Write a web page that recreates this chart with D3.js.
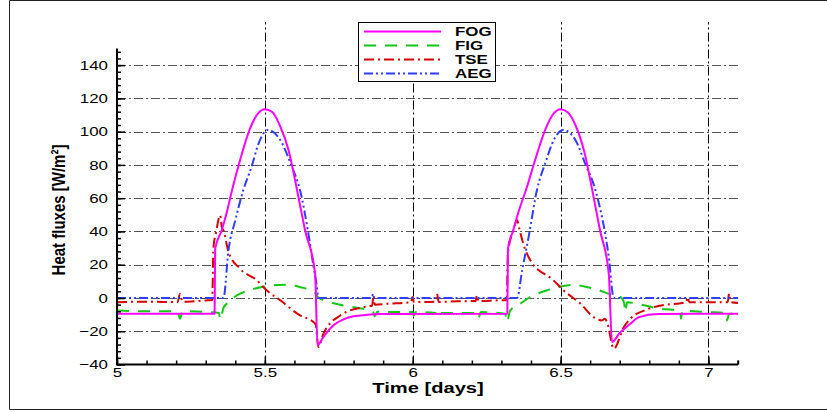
<!DOCTYPE html>
<html>
<head>
<meta charset="utf-8">
<script src="https://cdn.jsdelivr.net/npm/d3@7"></script>
<style>
  html, body { margin: 0; padding: 0; background: #fff; }
  svg { display: block; }
  text { font-family: "Liberation Sans", Arial, sans-serif; }
</style>
</head>
<body>
<svg id="chart" width="827" height="412"></svg>
<script>
// Heat flux components over two diurnal cycles, [time in days, W/m2]
const fog = [
  [5.00,-9.5],[5.33,-9.5],[5.332,29.7],[5.354,40.7],[5.372,52],[5.389,64.8],[5.416,82.8],
  [5.45,102],[5.477,111],[5.50,113.5],[5.525,111.8],[5.55,104],[5.58,89],[5.609,64.8],
  [5.636,40.7],[5.67,14.6],[5.678,-28.5],[5.697,-23.7],[5.731,-16.6],[5.772,-12.4],
  [5.822,-10.5],[5.89,-9.6],[6.32,-9.5],[6.322,29.7],[6.34,40.7],[6.36,53],[6.385,66],
  [6.414,83],[6.45,102],[6.477,111],[6.50,113.5],[6.525,111.5],[6.55,104],[6.58,88],
  [6.607,65],[6.633,41],[6.663,14.6],[6.674,-26.5],[6.70,-21],[6.736,-15.5],[6.765,-11.5],
  [6.83,-9.6],[7.10,-9.5]
];
const fig = [
  [5.00,-7.5],[5.10,-8],[5.205,-8],[5.213,-12.5],[5.222,-8],[5.315,-8.5],[5.345,-9],
  [5.349,-13],[5.36,-6],[5.377,-2.5],[5.416,2.6],[5.45,4.8],[5.49,6.6],[5.567,8],
  [5.62,6.5],[5.668,3.5],[5.68,0.5],[5.72,-2.5],[5.765,-4.5],[5.832,-6.5],[5.866,-8.5],
  [5.872,-11],[5.88,-8.3],[5.92,-8.5],[6.00,-8.5],[6.003,-10.5],[6.01,-8.5],[6.078,-9],
  [6.082,-11.5],[6.09,-9],[6.218,-9],[6.223,-11.9],[6.23,-8.5],[6.313,-9.5],[6.318,-14.5],
  [6.33,-7.5],[6.364,-3.4],[6.398,0.6],[6.454,4.6],[6.544,7.8],[6.612,5.6],[6.68,1.6],
  [6.702,0.6],[6.715,-3],[6.719,-8.5],[6.725,-2.5],[6.759,-3.5],[6.838,-6.5],[6.905,-7.5],
  [6.907,-12.5],[6.912,-7.8],[7.00,-8.5],[7.06,-9],[7.063,-13.5],[7.07,-9.5],[7.10,-9.5]
];
const tse = [
  [5.00,-2.5],[5.10,-2.2],[5.205,-2.5],[5.213,2.6],[5.222,-2.3],[5.26,-2],[5.30,-1.5],
  [5.322,-1.2],[5.326,30],[5.335,39.5],[5.349,49.7],[5.355,42],[5.36,40.7],[5.377,27.6],
  [5.416,17.6],[5.473,10.6],[5.506,4.6],[5.552,-1.4],[5.619,-10.5],[5.664,-14.5],
  [5.672,-16],[5.681,-29.5],[5.698,-21.5],[5.755,-10.5],[5.833,-5.5],[5.863,-4.5],
  [5.867,1.6],[5.872,-4],[5.92,-3.4],[5.995,-2.5],[5.999,0.6],[6.004,-2.5],[6.078,-2.2],
  [6.082,2.6],[6.088,-2.4],[6.15,-2],[6.213,-1.8],[6.217,1.6],[6.222,-1.8],[6.30,-1.4],
  [6.318,-1.4],[6.322,26.7],[6.34,40.7],[6.353,46.7],[6.36,42],[6.375,32],[6.398,22.6],
  [6.476,10.6],[6.51,4.6],[6.567,-3.4],[6.612,-11.5],[6.64,-13.5],[6.65,-12.5],
  [6.657,-14.5],[6.68,-30.5],[6.714,-17.5],[6.736,-12.5],[6.79,-7],[6.84,-4.5],
  [6.925,-2.5],[6.93,0.6],[6.935,-2.5],[6.99,-2.5],[7.065,-2.5],[7.07,2.6],[7.075,-2.5],
  [7.10,-3]
];
const aeg = [
  [5.00,0],[5.36,0],[5.377,28.7],[5.40,46.7],[5.427,64.8],[5.457,80],[5.477,92],[5.51,101],
  [5.552,95],[5.589,80],[5.619,64.8],[5.646,40],[5.664,19.6],[5.676,6.6],[5.681,0],
  [5.862,0],[5.866,2.5],[5.87,0],[6.353,0],[6.37,16.6],[6.392,36.7],[6.42,64.8],
  [6.45,82],[6.477,95],[6.51,101],[6.55,95],[6.585,80],[6.618,64.8],[6.663,24.6],
  [6.68,0],[7.10,0]
];

const seriesNames = ["FOG", "FIG", "TSE", "AEG"];
const xMajorTicks = [5, 5.5, 6, 6.5, 7];
const xMinorTicks = d3.range(5, 7.1001, 0.1);
const yMajorTicks = [-40, -20, 0, 20, 40, 60, 80, 100, 120, 140];
const yMinorTicks = d3.range(-40, 150.001, 4);
const xGridTicks = [5.5, 6, 6.5, 7];
const yGridTicks = [-20, 0, 20, 40, 60, 80, 100, 120, 140];

const styles = {
  FOG: { data: fog, color: "#ff00ff", dash: null },
  FIG: { data: fig, color: "#16c816", dash: "12,9" },
  TSE: { data: tse, color: "#d40000", dash: "10,4,2,4" },
  AEG: { data: aeg, color: "#2f3dff", dash: "9,3,2,3,2,3" }
};

const svg = d3.select("#chart");
const STRETCH = 1.3;

// outer frame
svg.append("path")
  .attr("d", "M827,0.5 H9.5 V409.5 H827")
  .attr("fill", "none").attr("stroke", "#222").attr("stroke-width", 1);

const x = d3.scaleLinear().domain([5, 7.1]).range([117, 738]);
const y = d3.scaleLinear().domain([-40, 150]).range([364.5, 48.5]);

// grid
const grid = svg.append("g").attr("stroke-width", 1)
  .attr("stroke-dasharray", "9,3,2,3").attr("fill", "none");
grid.selectAll("line.h").data(yGridTicks).join("line").attr("class", "h")
  .attr("stroke", "#555")
  .attr("x1", x(5)).attr("x2", x(7.1))
  .attr("y1", d => Math.round(y(d)) + 0.5).attr("y2", d => Math.round(y(d)) + 0.5);
grid.selectAll("line.v").data(xGridTicks).join("line").attr("class", "v")
  .attr("stroke", "#000")
  .attr("x1", d => Math.round(x(d)) + 0.5).attr("x2", d => Math.round(x(d)) + 0.5)
  .attr("y1", y(-40)).attr("y2", 22);

// series
const line = d3.line().x(d => x(d[0])).y(d => y(d[1])).curve(d3.curveMonotoneX);
const plotOrder = ["FIG", "TSE", "AEG", "FOG"];
plotOrder.forEach(name => {
  const s = styles[name];
  svg.append("path").datum(s.data)
    .attr("d", line)
    .attr("fill", "none")
    .attr("stroke", s.color)
    .attr("stroke-width", 2)
    .attr("stroke-dasharray", s.dash)
    .attr("stroke-linejoin", "round");
});

// widen tick labels horizontally
function stretchText(sel) {
  sel.selectAll("text").each(function () {
    const t = d3.select(this);
    const xv = +t.attr("x") || 0;
    t.attr("x", xv / STRETCH).attr("transform", `scale(${STRETCH},1)`);
  });
}

// axes
const fmt = d3.format("~g");
const gx = svg.append("g").attr("transform", `translate(0,${y(-40)})`);
gx.call(d3.axisBottom(x).tickValues(xMinorTicks).tickSizeInner(-4).tickSizeOuter(0).tickFormat(""));
gx.append("g").call(d3.axisBottom(x).tickValues(xMajorTicks).tickSizeInner(-8).tickSizeOuter(0)
  .tickPadding(3).tickFormat(fmt))
  .call(g => g.select(".domain").remove())
  .call(stretchText);
gx.selectAll(".domain").attr("stroke-width", 2).attr("d", `M${x(5)},0H${x(7.1)}`);
gx.selectAll("line").attr("stroke-width", 1.5);

const gy = svg.append("g").attr("transform", `translate(${x(5)},0)`);
gy.call(d3.axisLeft(y).tickValues(yMinorTicks).tickSizeInner(-4).tickSizeOuter(0).tickFormat(""));
gy.append("g").call(d3.axisLeft(y).tickValues(yMajorTicks).tickSizeInner(-8).tickSizeOuter(0)
  .tickPadding(9).tickFormat(fmt))
  .call(g => g.select(".domain").remove())
  .call(stretchText);
gy.selectAll(".domain").attr("stroke-width", 2).attr("d", `M0,${y(-40) + 1}V${y(150)}`);
gy.selectAll("line").attr("stroke-width", 1.5);
svg.selectAll(".tick text").attr("font-size", 13).attr("fill", "#000")
  .attr("font-family", "'Liberation Sans', Arial, sans-serif");
// end tick of the time axis
svg.append("line").attr("x1", x(7.1)).attr("x2", x(7.1))
  .attr("y1", y(-40)).attr("y2", y(-40) - 4).attr("stroke", "#000").attr("stroke-width", 1.5);

// axis titles
svg.append("text")
  .attr("transform", `translate(428,393) scale(${STRETCH},1)`)
  .attr("text-anchor", "middle").attr("font-weight", "bold").attr("font-size", 15.5)
  .text("Time [days]");
svg.append("text")
  .attr("transform", "translate(65,210) rotate(-90) scale(1,1.25)")
  .attr("text-anchor", "middle").attr("font-weight", "bold").attr("font-size", 15)
  .text("Heat fluxes [W/m²]");

// legend
const lg = svg.append("g");
lg.append("rect").attr("x", 358.5).attr("y", 22.5).attr("width", 137).attr("height", 59)
  .attr("fill", "#fff").attr("stroke", "#000").attr("stroke-width", 1);
const rowY = d3.scalePoint().domain(seriesNames).range([31.5, 73.5]);
seriesNames.forEach(name => {
  const s = styles[name];
  lg.append("line")
    .attr("x1", 364).attr("x2", 441)
    .attr("y1", rowY(name)).attr("y2", rowY(name))
    .attr("stroke", s.color).attr("stroke-width", 2)
    .attr("stroke-dasharray", s.dash);
  lg.append("text")
    .attr("transform", `translate(455,${rowY(name)}) scale(${STRETCH},1)`)
    .attr("dy", "0.36em").attr("font-weight", "bold").attr("font-size", 13)
    .text(name);
});
</script>
</body>
</html>
